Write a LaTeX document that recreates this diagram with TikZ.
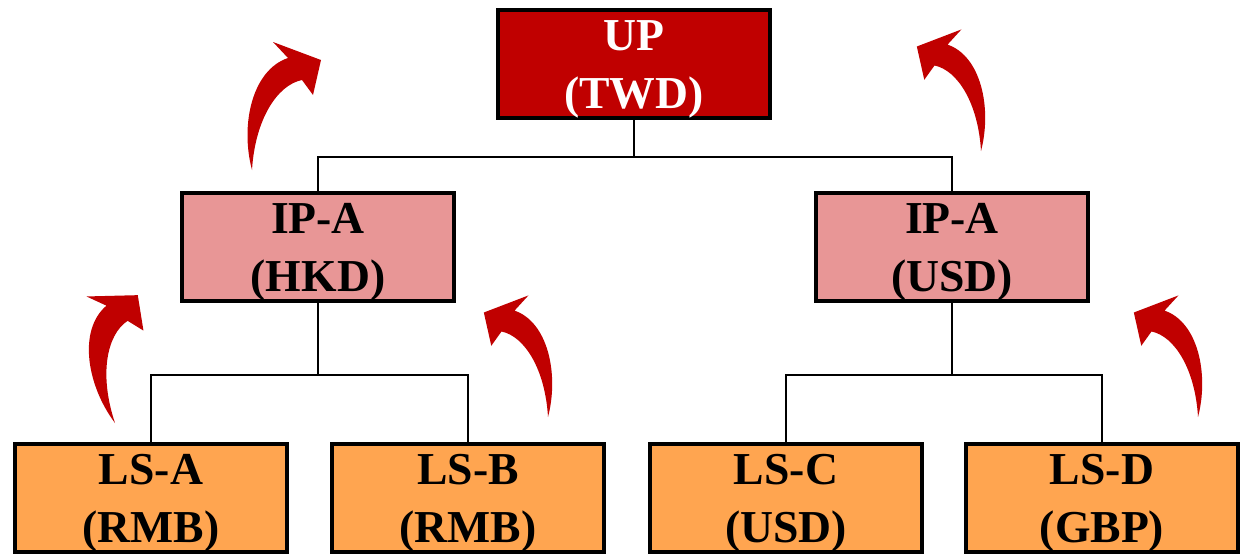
\documentclass[tikz,border=0pt]{standalone}
\usepackage{fontspec}
\setmainfont{Liberation Serif}
\definecolor{topred}{RGB}{192, 0, 0}
\definecolor{midpink}{RGB}{232, 150, 150}
\definecolor{leaforange}{RGB}{255, 165, 80}
\usetikzlibrary{positioning, calc}

\tikzset{
  entity/.style={draw=black, line width=2.2pt, minimum width=5.44cm, minimum height=2.16cm, inner sep=0pt, align=center, text height=51pt, text depth=0pt, font=\bfseries\fontsize{26}{33}\selectfont},
  link/.style={draw=black, line width=1.1pt},
  pics/liftarrow/.style={code={
    \fill[topred] (0,0) .. controls (-12,-45) and (0,-100) .. (36,-112) -- (21,-128) -- (69,-110) -- (61,-75) -- (50,-90) .. controls (25,-85) and (3,-50) .. (0,0) -- cycle;
  }}
}

\begin{document}
\begin{tikzpicture}[x=0.02cm, y=-0.02cm]
  \useasboundingbox (0,0) rectangle (1247,555);

  % Top level
  \node[entity, fill=topred, text=white] (up) at (634,64) {UP\\(TWD)};

  % Intermediate level
  \node[entity, fill=midpink] (iphkd) at (318,247) {IP-A\\(HKD)};
  \node[entity, fill=midpink] (ipusd) at (952,247) {IP-A\\(USD)};

  % Bottom level
  \node[entity, fill=leaforange] (lsa) at (151,498) {LS-A\\(RMB)};
  \node[entity, fill=leaforange] (lsb) at (468,498) {LS-B\\(RMB)};
  \node[entity, fill=leaforange] (lsc) at (786,498) {LS-C\\(USD)};
  \node[entity, fill=leaforange] (lsd) at (1102,498) {LS-D\\(GBP)};

  % Links
  \draw[link] (up.south) -- ++(0,37) -| (iphkd.north);
  \draw[link] (up.south) -- ++(0,37) -| (ipusd.north);
  \draw[link] (iphkd.south) -- ++(0,72) -| (lsa.north);
  \draw[link] (iphkd.south) -- ++(0,72) -| (lsb.north);
  \draw[link] (ipusd.south) -- ++(0,72) -| (lsc.north);
  \draw[link] (ipusd.south) -- ++(0,72) -| (lsd.north);

  % Curved arrows
  \pic at (252,170) {liftarrow};
  \pic[xscale=-0.93, yscale=0.95] at (981,151) {liftarrow};
  \pic[rotate=22] at (115,423) {liftarrow};
  \pic[xscale=-0.93, yscale=0.95] at (548,417) {liftarrow};
  \pic[xscale=-0.93, yscale=0.95] at (1198,417) {liftarrow};
\end{tikzpicture}
\end{document}
